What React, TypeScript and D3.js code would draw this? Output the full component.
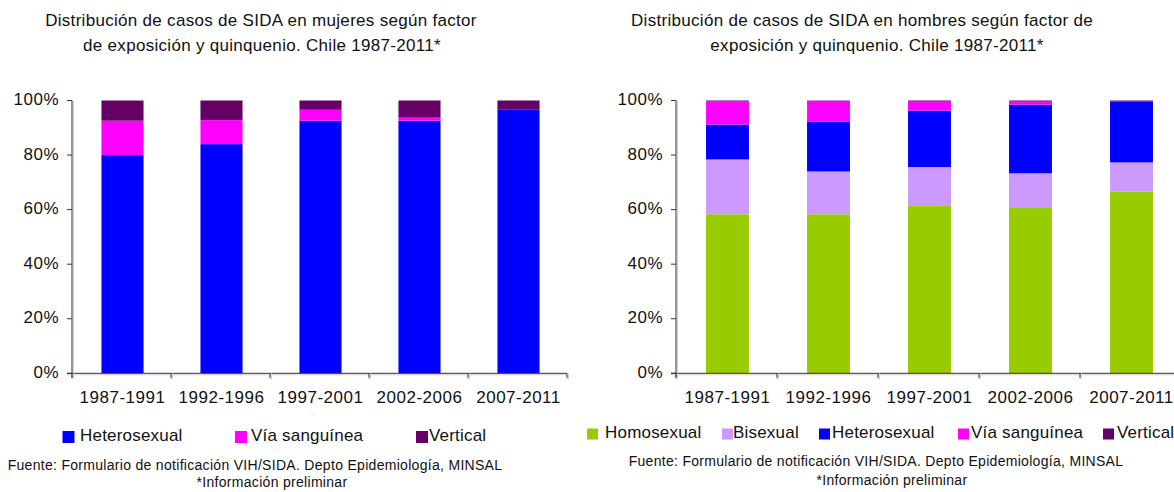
import React from 'react';
import * as d3 from 'd3';

// quinquenios
const periods = ['1987-1991', '1992-1996', '1997-2001', '2002-2006', '2007-2011'];

// mujeres (% por factor de exposición)
const mujeresHeterosexual = [80.0, 84.0, 92.6, 92.6, 96.6];
const mujeresViaSanguinea = [12.6, 8.8, 4.0, 1.1, 0.0];
const mujeresVertical = [7.4, 7.2, 3.4, 6.3, 3.4];

// hombres (% por factor de exposición)
const hombresHomosexual = [58.3, 58.3, 61.6, 60.6, 66.7];
const hombresBisexual = [20.1, 15.7, 14.0, 12.7, 10.6];
const hombresHeterosexual = [12.8, 18.3, 20.7, 25.2, 22.3];
const hombresViaSanguinea = [8.6, 7.6, 3.3, 1.1, 0.0];
const hombresVertical = [0.2, 0.1, 0.4, 0.4, 0.4];

const yTicks = [0, 20, 40, 60, 80, 100];

const FONT = '"Liberation Sans", Arial, sans-serif';
const COLORS: Record<string, string> = {
  Homosexual: '#99cc00',
  Bisexual: '#cc99ff',
  Heterosexual: '#0000ff',
  'Vía sanguínea': '#ff00ff',
  Vertical: '#660066'
};

type Series = { name: string; values: number[] };

type ChartProps = {
  titleLines: string[];
  titleX: number[];
  series: Series[];
  x0: number;
  x1: number;
  legendX: { swatch: number; text: number }[];
  legendY: number;
  swatch: number;
  footerX: number;
  infoX: number;
  footerY: number;
  infoY: number;
};

function StackedChart(props: ChartProps) {
  const { titleLines, titleX, series, x0, x1, legendX, legendY, swatch, footerX, infoX, footerY, infoY } = props;
  const keys = series.map(s => s.name);
  const rows = periods.map((p, i) => {
    const r: any = { period: p };
    series.forEach(s => { r[s.name] = s.values[i]; });
    return r;
  });
  const stacked = d3.stack<any>().keys(keys)(rows);

  const x = d3.scaleBand<string>()
    .domain(periods)
    .range([x0 + 1, x1 + 1])
    .paddingInner(0.575)
    .paddingOuter(0.2875);
  const y = d3.scaleLinear().domain([0, 100]).range([373.3, 100.5]);
  const step = x.step();
  const bandEdges = d3.range(periods.length + 1).map(i => x0 + i * step);
  const shadow = '#dcc6e0';

  return (
    <g>
      {titleLines.map((t, i) => (
        <text key={t} x={titleX[i]} y={22 + i * 25} textAnchor='middle' dominantBaseline='middle'
          fontSize={17} letterSpacing={0.3} fill='#111'>{t}</text>
      ))}
      {/* barras */}
      {stacked.map(layer => (
        <g key={layer.key} fill={COLORS[layer.key]}>
          {layer.map((d, i) => (
            <rect key={i} x={x(periods[i])} width={x.bandwidth()}
              y={y(d[1])} height={Math.max(0, y(d[0]) - y(d[1]))} />
          ))}
        </g>
      ))}
      {/* eje y */}
      <line x1={x0 + 1.5} x2={x0 + 1.5} y1={y(100)} y2={y(0) + 5} stroke={shadow} />
      <line x1={x0} x2={x0} y1={y(100)} y2={y(0) + 4} stroke='#333' />
      {yTicks.map(t => (
        <g key={t}>
          <line x1={x0 - 5} x2={x0} y1={y(t)} y2={y(t)} stroke='#333' />
          <text x={x0 - 13} y={y(t)} textAnchor='end' dominantBaseline='middle'
            fontSize={17} letterSpacing={0.5} fill='#111'>{t + '%'}</text>
        </g>
      ))}
      {/* eje x */}
      <line x1={x0 - 5} x2={x1} y1={y(0) + 1.5} y2={y(0) + 1.5} stroke={shadow} />
      <line x1={x0 - 5} x2={x1} y1={y(0)} y2={y(0)} stroke='#333' />
      {bandEdges.map((e, i) => (
        <g key={i}>
          <line x1={e + 1.5} x2={e + 1.5} y1={y(0)} y2={y(0) + 6} stroke={shadow} />
          <line x1={e} x2={e} y1={y(0)} y2={y(0) + 5} stroke='#333' />
        </g>
      ))}
      {periods.map(p => (
        <text key={p} x={(x(p) as number) + x.bandwidth() / 2} y={399} textAnchor='middle'
          dominantBaseline='middle' fontSize={17} letterSpacing={0.5} fill='#111'>{p}</text>
      ))}
      {/* leyenda */}
      {series.map((s, i) => (
        <g key={s.name}>
          <rect x={legendX[i].swatch} y={legendY - swatch / 2} width={swatch} height={swatch} fill={COLORS[s.name]} />
          <text x={legendX[i].text} y={legendY} dominantBaseline='middle' fontSize={17}
            letterSpacing={0.2} fill='#111'>{s.name}</text>
        </g>
      ))}
      <text x={footerX} y={footerY} textAnchor='middle' dominantBaseline='middle' fontSize={14}
        letterSpacing={0.3} fill='#111'>Fuente: Formulario de notificación VIH/SIDA. Depto Epidemiología, MINSAL</text>
      <text x={infoX} y={infoY} textAnchor='middle' dominantBaseline='middle' fontSize={14}
        letterSpacing={0.3} fill='#111'>*Información preliminar</text>
    </g>
  );
}

export default function App() {
  return (
    <svg width={1174} height={492} fontFamily={FONT}
      style={{ position: 'absolute', left: 0, top: 0, background: '#fff', display: 'block' }}>
      <rect width={1174} height={492} fill='#fff' />
      <StackedChart
        titleLines={['Distribución de casos de SIDA en mujeres  según factor', 'de exposición y quinquenio. Chile 1987-2011*']}
        titleX={[261, 262]}
        series={[
          { name: 'Heterosexual', values: mujeresHeterosexual },
          { name: 'Vía sanguínea', values: mujeresViaSanguinea },
          { name: 'Vertical', values: mujeresVertical }
        ]}
        x0={72}
        x1={567}
        legendX={[{ swatch: 62.5, text: 80 }, { swatch: 235, text: 251 }, { swatch: 416, text: 429 }]}
        legendY={437}
        swatch={12}
        footerX={255}
        infoX={272}
        footerY={466}
        infoY={483}
      />
      <StackedChart
        titleLines={['Distribución de casos de SIDA en hombres según factor de', 'exposición y quinquenio.  Chile 1987-2011*']}
        titleX={[862, 877]}
        series={[
          { name: 'Homosexual', values: hombresHomosexual },
          { name: 'Bisexual', values: hombresBisexual },
          { name: 'Heterosexual', values: hombresHeterosexual },
          { name: 'Vía sanguínea', values: hombresViaSanguinea },
          { name: 'Vertical', values: hombresVertical }
        ]}
        x0={676}
        x1={1181}
        legendX={[
          { swatch: 587, text: 605 },
          { swatch: 722, text: 733 },
          { swatch: 819, text: 832 },
          { swatch: 958, text: 971 },
          { swatch: 1103, text: 1117 }
        ]}
        legendY={434}
        swatch={11}
        footerX={876}
        infoX={892}
        footerY={462}
        infoY={481}
      />
    </svg>
  );
}
